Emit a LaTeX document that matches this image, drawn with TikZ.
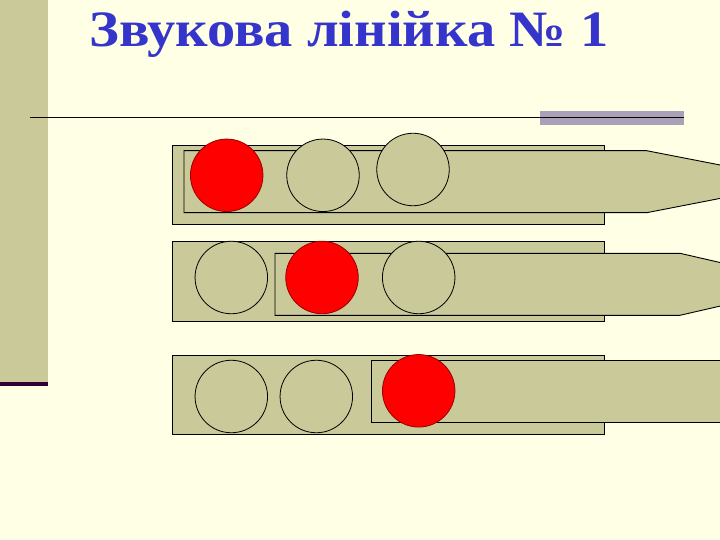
\documentclass[tikz,border=0pt]{standalone}
\usepackage{fontspec}
\setmainfont{Liberation Serif}
\definecolor{bgy}{HTML}{FFFFE5}
\definecolor{khaki}{HTML}{C9C99A}
\definecolor{titleblue}{HTML}{3535CC}
\definecolor{lav}{HTML}{A8A1B8}
\definecolor{darkp}{HTML}{330033}
\begin{document}
\begin{tikzpicture}[x=1pt,y=-1pt,
  frame/.style={fill=khaki,draw=black,line width=0.9pt},
  ball/.style={circle,draw=black,line width=0.8pt,minimum size=72.5pt,inner sep=0pt},
  hot/.style={ball,fill=red,draw=red!60!black},
  cold/.style={ball,fill=khaki}]
\useasboundingbox (0,0) rectangle (720,540);
\clip (0,0) rectangle (720,540);
\fill[bgy] (0,0) rectangle (720,540);
% left bar
\fill[khaki] (0,0) rectangle (48,382);
\fill[darkp] (0,381.8) rectangle (48,385.5);
% title
\node[anchor=base west,inner sep=0pt,text=titleblue,font=\fontsize{51}{56}\selectfont\bfseries] (title) at (89,47) {\scalebox{1.107}[1]{Звукова лінійка № 1}};
% rule
\fill[lav] (540,111.5) rectangle (684,125);
\draw[line width=1.8pt,black!90!red] (30,117.6) -- (684,117.6);
% row 1
\draw[frame] (172,145) rectangle (604,224);
\draw[frame] (184,150.7) -- (646.7,150.7) -- (806,181.7) -- (646.7,212.7) -- (184,212.7) -- cycle;
\node[hot]  (r1a) at (226.7,175.3) {};
\node[cold] (r1b) at (323,175.3) {};
\node[cold] (r1c) at (413,169.5) {};
% row 2
\draw[frame] (172,241.7) rectangle (604,321);
\draw[frame] (275,253.3) -- (680,253.3) -- (815,284.3) -- (680,315.3) -- (275,315.3) -- cycle;
\node[cold] (r2a) at (231.3,277.5) {};
\node[hot]  (r2b) at (322,277.5) {};
\node[cold] (r2c) at (418.7,277.5) {};
% row 3
\draw[frame] (172,355) rectangle (604,434.3);
\draw[frame] (371,360.7) -- (760,360.7) -- (760,422.8) -- (371,422.8) -- cycle;
\node[cold] (r3a) at (231.3,396.5) {};
\node[cold] (r3b) at (316.3,396.5) {};
\node[hot]  (r3c) at (418.7,390.8) {};
\end{tikzpicture}
\end{document}
